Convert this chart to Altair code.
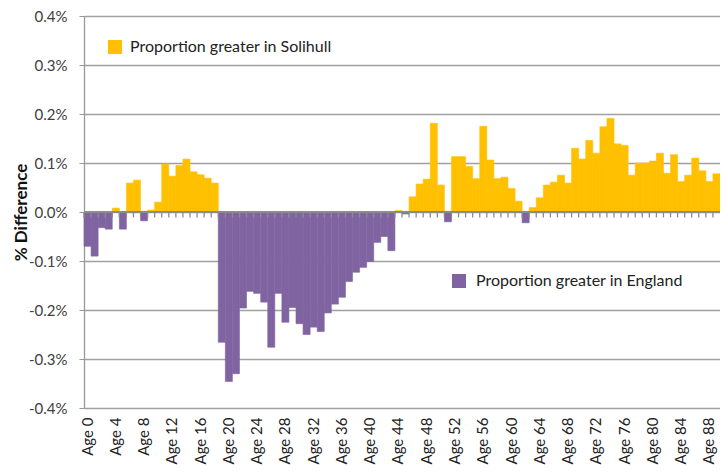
import altair as alt
import pandas as pd

ages = [f"Age {i}" for i in range(90)]
values = [
    -0.070, -0.090, -0.032, -0.035, 0.008, -0.035, 0.059, 0.065, -0.018, 0.004,
    0.020, 0.098, 0.073, 0.095, 0.108, 0.082, 0.076, 0.069, 0.059, -0.266,
    -0.346, -0.330, -0.196, -0.162, -0.166, -0.184, -0.276, -0.166, -0.225, -0.195,
    -0.228, -0.250, -0.235, -0.244, -0.206, -0.188, -0.174, -0.142, -0.123, -0.113,
    -0.101, -0.062, -0.050, -0.079, 0.003, -0.004, 0.031, 0.057, 0.067, 0.181,
    0.055, -0.020, 0.113, 0.113, 0.093, 0.068, 0.175, 0.106, 0.068, 0.071,
    0.048, 0.022, -0.022, 0.009, 0.029, 0.055, 0.061, 0.075, 0.059, 0.130,
    0.108, 0.146, 0.120, 0.174, 0.191, 0.139, 0.136, 0.075, 0.100, 0.100,
    0.104, 0.120, 0.079, 0.117, 0.062, 0.075, 0.110, 0.084, 0.062, 0.078,
]
series_names = ["Proportion greater in Solihull", "Proportion greater in England"]
series_colors = ["#FFC000", "#8064A2"]
y_ticks = [-0.4, -0.3, -0.2, -0.1, 0.0, 0.1, 0.2, 0.3, 0.4]

df = pd.DataFrame({
    "age": ages,
    "diff": values,
    "series": [series_names[0] if v >= 0 else series_names[1] for v in values],
})

FONT = "Lato"
H = 392
W = 636

xenc = alt.X(
    "age:N", sort=ages,
    scale=alt.Scale(paddingInner=0, paddingOuter=0),
    axis=alt.Axis(
        values=ages[::4], labelAngle=270, domain=False, ticks=False, grid=False,
        labelPadding=9, labelFont=FONT, labelFontSize=15, labelColor="#222",
        title=None,
    ),
)

yenc = alt.Y(
    "diff:Q",
    scale=alt.Scale(domain=[-0.4, 0.4], nice=False, zero=False),
    axis=alt.Axis(
        values=y_ticks, grid=True, gridColor="#a0a0a0", gridWidth=1.3,
        domainColor="#999", domainWidth=1.3, tickColor="#999", tickSize=5,
        labelPadding=12, labelFont=FONT, labelFontSize=15, labelColor="#404040",
        labelExpr="(datum.value < -0.00001 ? '-' : '') + format(abs(datum.value), '.1f') + '%'",
        title="% Difference", titleFont=FONT, titleFontSize=17, titleFontWeight="bold",
        titleColor="#111", titleAngle=270, titleX=-63, titleY=H / 2,
        titleAlign="center", titleBaseline="middle",
    ),
)

color_scale = alt.Scale(domain=series_names, range=series_colors)

bars = alt.Chart(df).mark_bar(strokeWidth=0.6).encode(
    x=xenc,
    y=yenc,
    y2=alt.datum(0),
    color=alt.Color("series:N", scale=color_scale, legend=None),
    stroke=alt.Stroke("series:N", scale=color_scale, legend=None),
)

zero = alt.Chart(df).mark_rule(color="#8c8c8c", strokeWidth=1.5).encode(y=alt.datum(0))

ticks = alt.Chart(df).mark_rule(color="#8c8c8c", strokeWidth=1.3).encode(
    x=alt.X("age:N", sort=ages, bandPosition=0),
    y=alt.datum(0),
    y2=alt.datum(-0.011),
)

leg1 = pd.DataFrame({"t": [series_names[0]]})
leg2 = pd.DataFrame({"t": [series_names[1]]})

sq1 = alt.Chart(leg1).mark_square(size=196, opacity=1, color=series_colors[0]).encode(
    x=alt.value(31), y=alt.value(31))
tx1 = alt.Chart(leg1).mark_text(align="left", baseline="middle", font=FONT, fontSize=16, color="#222").encode(
    x=alt.value(46), y=alt.value(31), text="t:N")
sq2 = alt.Chart(leg2).mark_square(size=196, opacity=1, color=series_colors[1]).encode(
    x=alt.value(375), y=alt.value(265))
tx2 = alt.Chart(leg2).mark_text(align="left", baseline="middle", font=FONT, fontSize=16, color="#222").encode(
    x=alt.value(392), y=alt.value(265), text="t:N")

chart = alt.layer(bars, zero, ticks, sq1, tx1, sq2, tx2).properties(
    width=W, height=H,
    autosize=alt.AutoSizeParams(type="none"),
    padding={"left": 76, "top": 8, "right": 0, "bottom": 57},
).configure_view(stroke=None).configure(background="white")

chart.save("out.html", embed_options={"renderer": "svg", "actions": False})
